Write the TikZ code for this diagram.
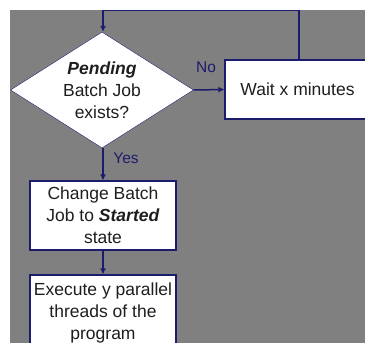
\documentclass[tikz,border=0pt]{standalone}
\usepackage{fontspec}
\setmainfont{Liberation Sans}
\usepackage{xcolor}
\definecolor{navy}{RGB}{28,28,108}
\definecolor{bggray}{RGB}{128,128,128}
\definecolor{txt}{RGB}{30,30,30}
\usetikzlibrary{arrows.meta,shapes.geometric,positioning}
\tikzset{
    decision/.style={
    diamond,aspect=1.58,draw=navy,fill=white,thin,inner sep=0pt,minimum width=183pt,minimum height=116pt,text=txt,align=center,font=\fontsize{17.5}{22}\selectfont
    },
    process/.style={
    rectangle,draw=navy,fill=white,line width=1.2pt,inner sep=0pt,text=txt,align=center,font=\fontsize{17.5}{22}\selectfont
    },
    label/.style={text=navy,inner sep=0pt,font=\fontsize{15.5}{18}\selectfont},
  line/.style={draw=navy, line width=1.5pt, -{Latex[length=6pt,width=6pt]}},
}

\begin{document}
\begin{tikzpicture}[x=1pt,y=-1pt]
  \useasboundingbox (0,0) rectangle (365,343);
  \fill[bggray] (10,10) rectangle (365,343);

  \node[decision] (pend) at (102,90) {\textbf{\textit{Pending}}\\Batch Job\\exists?};
  \node[process,minimum width=145pt,minimum height=59pt] (wait) at (297.5,89.5) {Wait x minutes};
  \node[process,minimum width=146pt,minimum height=69pt] (start) at (103,215.5) {Change Batch\\Job to \textbf{\textit{Started}}\\state};
  \node[process,minimum width=146pt,minimum height=76pt] (exec) at (103,313) {Execute y parallel\\threads of the\\program};

  \coordinate (loopR) at (299,10.5);
  \coordinate (loopL) at (103,10.5);

  \path[line] (pend.east) -- (wait.west);
  \node[label] (no) at (206,67) {No};
  \path[line] (pend.south -| start.north) -- (start.north);
  \node[label] (yes) at (126,158) {Yes};
  \path[line] (start.south) -- (exec.north);
  \path[line] (wait.north -| loopR) -- (loopR) -- (loopL) -- (pend.north -| loopL);
\end{tikzpicture}
\end{document}
